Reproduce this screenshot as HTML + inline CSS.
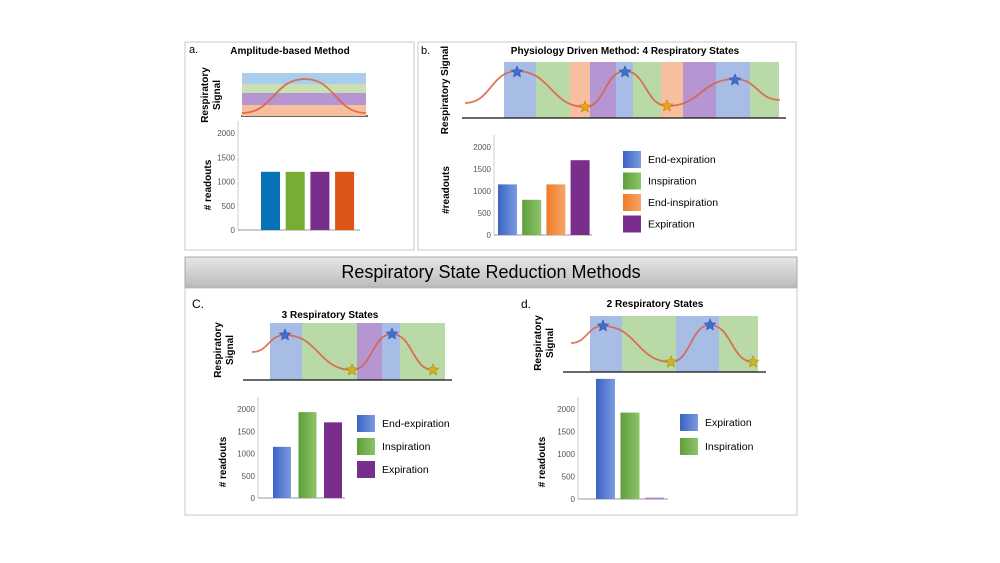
<!DOCTYPE html>
<html><head><meta charset="utf-8"><style>
body{margin:0;background:#fff;}
svg{display:block;font-family:"Liberation Sans",sans-serif;}
.t{font-weight:bold;font-size:10px;}
.tick{font-size:8px;fill:#555;}
.leg{font-size:10.5px;}
</style></head><body>
<svg id="s" width="1000" height="563" viewBox="0 0 1000 563">
<defs>
<linearGradient id="hdr" x1="0" y1="0" x2="0" y2="1"><stop offset="0" stop-color="#e6e6e6"/><stop offset="1" stop-color="#bdbdbd"/></linearGradient>
<linearGradient id="gb" x1="0" x2="1"><stop offset="0" stop-color="#3a63c4"/><stop offset="1" stop-color="#7b9be0"/></linearGradient>
<linearGradient id="gg" x1="0" x2="1"><stop offset="0" stop-color="#5f9e3a"/><stop offset="1" stop-color="#8cc46a"/></linearGradient>
<linearGradient id="go" x1="0" x2="1"><stop offset="0" stop-color="#f07a25"/><stop offset="1" stop-color="#f7a56a"/></linearGradient>
</defs>
<rect x="185" y="42" width="229" height="208" fill="none" stroke="#c8c8c8"/>
<rect x="418" y="42" width="378" height="208" fill="none" stroke="#c8c8c8"/>
<rect x="185" y="288" width="612" height="227" fill="none" stroke="#c8c8c8"/>
<rect x="185" y="257" width="612" height="30" fill="url(#hdr)" stroke="#aaa"/>
<text x="491" y="278" text-anchor="middle" font-size="18">Respiratory State Reduction Methods</text>
<text x="189" y="53" font-size="11">a.</text>
<text x="290" y="54" text-anchor="middle" class="t">Amplitude-based Method</text>
<text x="421" y="54" font-size="11">b.</text>
<text x="625" y="54" text-anchor="middle" class="t">Physiology Driven Method: 4 Respiratory States</text>
<text x="192" y="308" font-size="12">C.</text>
<text x="330" y="318" text-anchor="middle" class="t">3 Respiratory States</text>
<text x="521" y="308" font-size="12">d.</text>
<text x="655" y="307" text-anchor="middle" class="t">2 Respiratory States</text>
<g id="g"></g>
</svg>
<script>
// ---- data ----
const aValues=[1200,1200,1200,1200];
const aColors=["#0872b9","#78ac32","#7a2e8b","#dd5417"];
const bValues=[1150,800,1150,1700];
const bLabels=["End-expiration","Inspiration","End-inspiration","Expiration"];
const cValues=[1150,1930,1700];
const cLabels=["End-expiration","Inspiration","Expiration"];
const dValues=[2670,1920,30];
const dLabels=["Expiration","Inspiration"];
const ticks=[0,500,1000,1500,2000];

const NS="http://www.w3.org/2000/svg";
const G=document.getElementById('g');
function mk(t,a,p){const e=document.createElementNS(NS,t);for(const k in a)e.setAttribute(k,a[k]);(p||G).appendChild(e);return e;}

function barChart(o){
  const y=v=>o.y0-(o.y0-o.y2000)*v/2000;
  const ax=mk('line',{x1:o.ax,y1:o.y2000-12,x2:o.ax,y2:o.y0,stroke:'#ccc'});
  
  const bl=mk('line',{x1:o.ax,y1:o.y0,x2:o.axEnd,y2:o.y0,stroke:'#999'});
  
  ticks.forEach(t=>{const e=mk('text',{x:o.ax-3,y:y(t)+3,'text-anchor':'end',class:'tick'});e.textContent=t;
    });
  o.values.forEach((v,i)=>{const x=o.x0+i*o.step;
    const r=mk('rect',{x:x,y:y(v),width:o.bw,height:o.y0-y(v),fill:o.colors[i]});
    });
  const yl=mk('text',{x:o.ylx,y:o.yly,transform:`rotate(-90 ${o.ylx} ${o.yly})`,'text-anchor':'middle','font-size':10,'font-weight':'bold'});
  yl.textContent=o.ylabel;
  if(o.legend){o.legend.forEach((l,i)=>{const yy=o.ly+i*o.lstep;
    const s=mk('rect',{x:o.lx,y:yy,width:18,height:17,fill:o.colors[i]});
    
    const t=mk('text',{x:o.lx+25,y:yy+12,class:'leg'});t.textContent=l;
    });}
}
function star(cx,cy,r,fill){let p=[];for(let i=0;i<10;i++){const a=-Math.PI/2+i*Math.PI/5,rr=i%2?r*0.45:r;p.push((cx+rr*Math.cos(a)).toFixed(1)+','+(cy+rr*Math.sin(a)).toFixed(1));}
  const e=mk('polygon',{points:p.join(' '),fill:fill,stroke:fill==='#3f6fd0'?'#2b55b0':'#b58a00','stroke-width':0.6});
  }
function signal(o){
  o.bands.forEach(b=>{const r=mk('rect',{x:b[0],y:o.top,width:b[1]-b[0],height:o.base-o.top,fill:b[2]});
    });
  const l=mk('line',{x1:o.lx1,y1:o.base,x2:o.lx2,y2:o.base,stroke:'#111','stroke-width':1.3});
  
  const pts=o.pts;let d='M'+pts[0][0]+','+pts[0][1];
  for(let i=1;i<pts.length;i++){const a=pts[i-1],b=pts[i],m=(a[0]+b[0])/2;d+=` C${m},${a[1]} ${m},${b[1]} ${b[0]},${b[1]}`;}
  const p=mk('path',{d:d,fill:'none',stroke:'#d9603f','stroke-width':1.8,opacity:0.85});
  
  (o.stars||[]).forEach(s=>star(s[0],s[1],6,s[2]));
  const yl=mk('text',{x:o.ylx,y:o.yly,transform:`rotate(-90 ${o.ylx} ${o.yly})`,'text-anchor':'middle','font-size':10,'font-weight':'bold'});
  yl.textContent=o.ylabel;
  if(o.ylabel2){const y2=mk('text',{x:o.ylx+12,y:o.yly,transform:`rotate(-90 ${o.ylx+12} ${o.yly})`,'text-anchor':'middle','font-size':10,'font-weight':'bold'});
    y2.textContent=o.ylabel2;}
}
const B='#a7bde6',Gc='#b9d9a6',O='#f7bf9e',P='#b596d3',BS='#3f6fd0',YS='#c9b52a',OS='#f0a020';
// panel a signal
signal({id:'a',top:73,base:116,lx1:241,lx2:368,bands:[[242,366,'#a9cdea']],pts:[[242,113],[305,79],[366,113]],ylabel:'Respiratory',ylabel2:'Signal',ylx:208,yly:95});
[[84,93,'#c9e0b4'],[93,105,P],[105,116,O]].forEach(b=>{const r=mk('rect',{x:242,y:b[0],width:124,height:b[1]-b[0],fill:b[2]});});
G.appendChild(G.querySelector('path'));
barChart({id:'a',values:aValues,colors:aColors,y0:230,y2000:133,ax:238,axEnd:360,x0:261,step:24.7,bw:19,ylabel:'# readouts',ylx:211,yly:185});
// panel b
signal({id:'b',top:62,base:118,lx1:462,lx2:786,bands:[[504,536,B],[536,570,Gc],[570,590,O],[590,616,P],[616,633,B],[633,661,Gc],[661,683,O],[683,716,P],[716,750,B],[750,779,Gc]],
 pts:[[465,103],[517,71],[585,107],[625,71],[667,106],[735,79],[780,100]],stars:[[517,72,BS],[585,107,OS],[625,72,BS],[667,106,OS],[735,80,BS]],ylabel:'Respiratory Signal',ylx:448,yly:90});
barChart({id:'b',values:bValues,colors:['url(#gb)','url(#gg)','url(#go)','#7a2e8b'],y0:235,y2000:147,ax:494,axEnd:592,x0:498,step:24.2,bw:19,ylabel:'#readouts',ylx:449,yly:190,legend:bLabels,lx:623,ly:151,lstep:21.5});
// panel c
signal({id:'c',top:323,base:380,lx1:243,lx2:452,bands:[[270,302,B],[302,357,Gc],[357,382,P],[382,400,B],[400,445,Gc]],
 pts:[[252,352],[285,335],[352,370],[392,334],[433,370]],stars:[[285,335,BS],[352,370,YS],[392,334,BS],[433,370,YS]],ylabel:'Respiratory',ylabel2:'Signal',ylx:221,yly:350});
barChart({id:'c',values:cValues,colors:['url(#gb)','url(#gg)','#7a2e8b'],y0:498,y2000:409,ax:258,axEnd:345,x0:273,step:25.5,bw:18,ylabel:'# readouts',ylx:226,yly:462,legend:cLabels,lx:357,ly:415,lstep:23});
// panel d
signal({id:'d',top:316,base:372,lx1:563,lx2:766,bands:[[590,622,B],[622,676,Gc],[676,719,B],[719,758,Gc]],
 pts:[[571,343],[603,326],[671,362],[710,325],[753,362]],stars:[[603,326,BS],[671,362,YS],[710,325,BS],[753,362,YS]],ylabel:'Respiratory',ylabel2:'Signal',ylx:541,yly:343});
barChart({id:'d',values:dValues,colors:['url(#gb)','url(#gg)','#b07ac8'],y0:499,y2000:409,ax:578,axEnd:668,x0:596,step:24.5,bw:19,ylabel:'# readouts',ylx:545,yly:462,legend:dLabels,lx:680,ly:414,lstep:24});
</script>
</body></html>
